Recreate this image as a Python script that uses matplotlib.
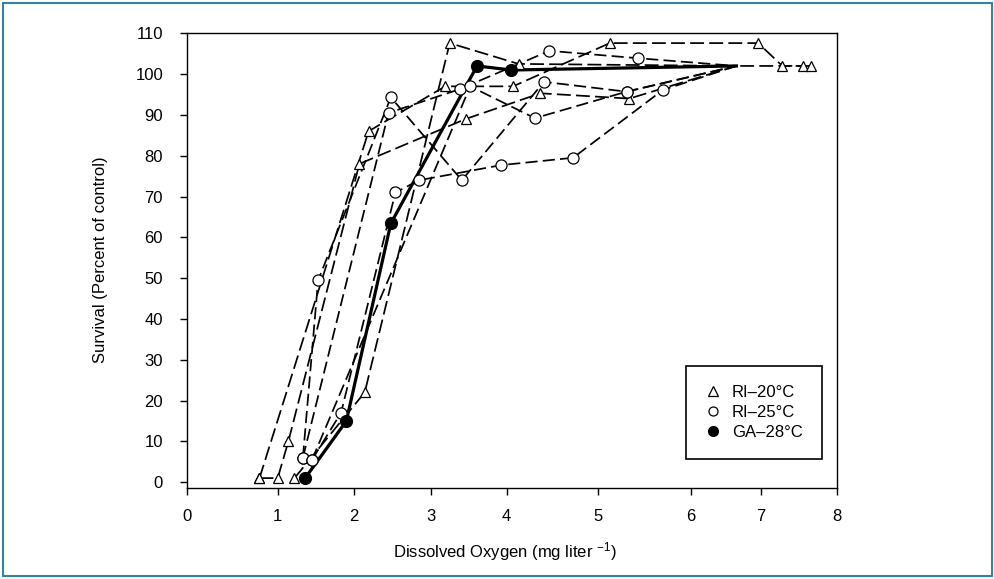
"""
Survival vs dissolved oxygen, three populations (RI-20, RI-25, GA-28).
"""

import numpy as np
import matplotlib

matplotlib.use("Agg")
import matplotlib.pyplot as plt
from matplotlib.lines import Line2D
from matplotlib.patches import Rectangle

plt.rcParams["font.family"] = ["Liberation Sans", "DejaVu Sans"]
plt.rcParams["mathtext.fontset"] = "custom"
plt.rcParams["mathtext.rm"] = "Liberation Sans"
plt.rcParams["mathtext.default"] = "regular"

# printed x axis is not evenly spaced: tick value -> offset (px) from the left spine
x_ticks = [0, 1, 2, 3, 4, 5, 6, 7, 8]
x_tick_pos = [0, 91, 167.3, 244, 320, 411, 504, 574.3, 650.6]
y_ticks = list(range(0, 111, 10))

# many curves run into this common end point (no symbol drawn there)
end_do, end_surv = 6.65, 102

# RI-20°C
ri20_a_do = [0.80, 1.00, 1.14, 2.07, 3.46, 4.37, 5.34, end_do]
ri20_a_surv = [1, 1, 10, 78, 89, 95.3, 94, end_surv]
ri20_b_do = [0.80, 2.19, 3.19, 4.07, 5.13, 6.96, 7.28, 7.55]
ri20_b_surv = [1, 86, 97, 97, 107.6, 107.6, 102, 102]
ri20_c_do = [1.22, 2.14, 3.25, 4.13, end_do, 7.65]
ri20_c_surv = [1, 22, 107.6, 102.5, end_surv, 102]

# RI-25°C
ri25_a_do = [1.33, 1.53, 2.48, 3.41, 4.41, 5.31, end_do]
ri25_a_surv = [6, 49.5, 94.3, 74, 98.1, 95.7, end_surv]
ri25_b_do = [1.33, 2.45, 3.38, 4.47, 5.43, end_do]
ri25_b_surv = [6, 90.5, 96.3, 105.7, 103.9, end_surv]
ri25_c_do = [1.45, 1.83, 2.54, 2.85, 3.93, 4.73, 5.70, end_do]
ri25_c_surv = [5.5, 17, 71, 74, 77.7, 79.5, 96.1, end_surv]
ri25_d_do = [1.45, 3.52, 4.31, 5.31, end_do]
ri25_d_surv = [5.5, 97, 89.2, 95.7, end_surv]

# GA-28°C
ga28_do = [1.36, 1.90, 2.48, 3.61, 4.05, end_do]
ga28_surv = [1, 15, 63.4, 102, 101, end_surv]


def _fwd(x):
    return np.interp(x, x_ticks, x_tick_pos)


def _inv(v):
    return np.interp(v, x_tick_pos, x_ticks)


def _marked(do, surv):
    pts = [(d, s) for d, s in zip(do, surv) if d != end_do]
    return [p[0] for p in pts], [p[1] for p in pts]


W, H = 995, 579
fig = plt.figure(figsize=(W / 100, H / 100), dpi=100)
ax = fig.add_axes([186.7 / W, 1 - 488.3 / H, 650.6 / W, 455 / H])
ax.set_xscale("function", functions=(_fwd, _inv))

dash_t = (0, (8, 3))
dash_c = (0, (7, 3))

series = [
    (ri20_a_do, ri20_a_surv, "^", dash_t),
    (ri20_b_do, ri20_b_surv, "^", dash_t),
    (ri20_c_do, ri20_c_surv, "^", dash_t),
    (ri25_a_do, ri25_a_surv, "o", dash_c),
    (ri25_b_do, ri25_b_surv, "o", dash_c),
    (ri25_c_do, ri25_c_surv, "o", dash_c),
    (ri25_d_do, ri25_d_surv, "o", dash_c),
]

# lines first, symbols on top
for do, surv, mk, ls in series:
    ax.plot(do, surv, color="black", lw=1.25, ls=ls, zorder=2)
ax.plot(ga28_do, ga28_surv, color="black", lw=2.3, zorder=3)

for do, surv, mk, ls in series:
    mx, my = _marked(do, surv)
    ax.plot(mx, my, ls="none", marker=mk, ms=7.5 if mk == "^" else 8,
            mfc="white", mec="black", mew=0.9, zorder=4)
gx, gy = _marked(ga28_do, ga28_surv)
ax.plot(gx, gy, ls="none", marker="o", ms=8.5, mfc="black", mec="black", zorder=5)

ax.set_xlim(0, 8)
ax.set_ylim(-1.5, 110)
ax.set_xticks(x_ticks)
ax.set_yticks(y_ticks)
ax.tick_params(axis="both", direction="out", length=5, width=1, labelsize=12)
ax.tick_params(axis="x", pad=10)
ax.tick_params(axis="y", pad=12)
for sp in ax.spines.values():
    sp.set_linewidth(1.0)
    sp.set_color("black")

fig.text(100 / W, 1 - 260 / H, "Survival (Percent of control)", rotation=90,
         ha="center", va="center", fontsize=12)
fig.text(505 / W, 1 - 552 / H, "Dissolved Oxygen (mg liter $^{-1}$)",
         ha="center", va="center", fontsize=12)

handles = [
    Line2D([], [], ls="none", marker="^", ms=6.5, mfc="white", mec="black", mew=0.9),
    Line2D([], [], ls="none", marker="o", ms=6.5, mfc="white", mec="black", mew=0.9),
    Line2D([], [], ls="none", marker="o", ms=7, mfc="black", mec="black"),
]
labels = ["RI\u201320\u00b0C", "RI\u201325\u00b0C", "GA\u201328\u00b0C"]
leg = ax.legend(handles, labels, loc="upper left",
                bbox_to_anchor=(686 / W, 1 - 366 / H),
                bbox_transform=fig.transFigure, borderaxespad=0,
                fontsize=12, frameon=True, fancybox=False, framealpha=1,
                edgecolor="black", borderpad=1.15, labelspacing=0.3,
                handlelength=0.9, handletextpad=0.7)
leg.get_frame().set_linewidth(1.2)

# thin teal frame around the whole picture
fig.patches.append(Rectangle((3 / W, 3 / H), 1 - 6 / W, 1 - 6 / H,
                             transform=fig.transFigure, fill=False,
                             edgecolor="#2b87a6", lw=1.5))

fig.savefig("out.png", dpi=100)
